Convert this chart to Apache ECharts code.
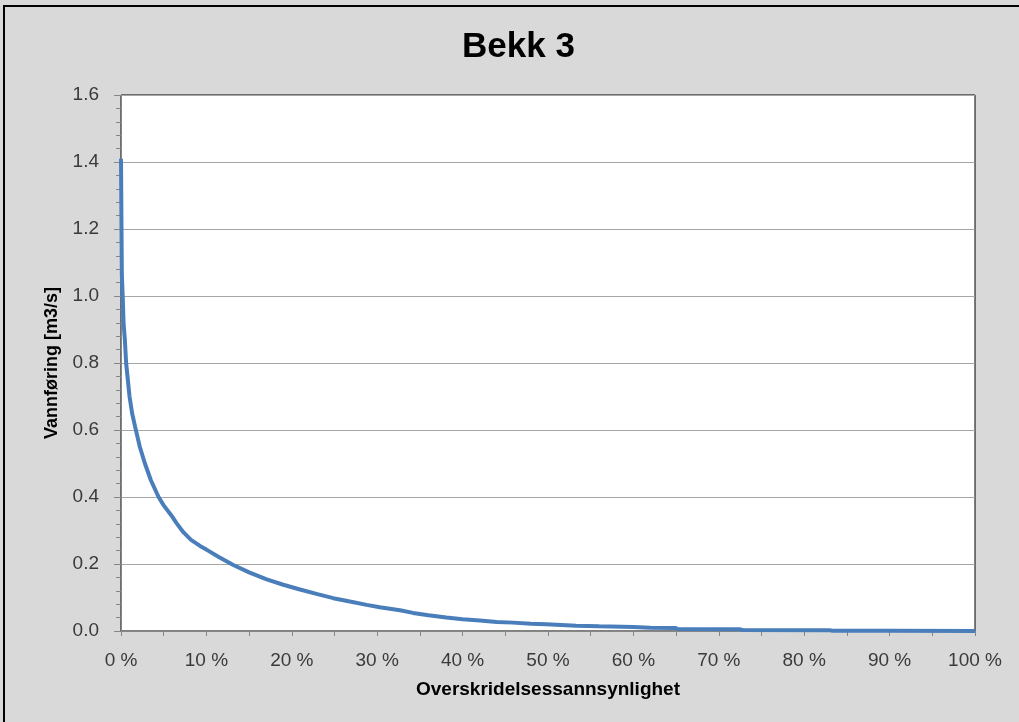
<!DOCTYPE html>
<html>
<head>
<meta charset="utf-8">
<title>Bekk 3</title>
<script src="https://cdn.jsdelivr.net/npm/echarts@6/dist/echarts.min.js"></script>
<style>
  html, body { margin: 0; padding: 0; background: #d9d9d9; }
  #chart { width: 1019px; height: 722px; }
</style>
</head>
<body>
<div id="chart"></div>
<script>
// Varighetskurve (flow duration curve) for Bekk 3
const chartTitle = 'Bekk 3';
const xAxisName = 'Overskridelsessannsynlighet';
const yAxisName = 'Vannføring [m3/s]';

// Exceedance probability in percent
const exceedance = [0, 0.1, 0.2, 0.3, 0.45, 0.6, 1.0, 1.3, 1.65, 2.2, 2.8, 3.5, 4.4, 5.0, 5.9, 6.5, 7.3, 8.2, 9.25, 10.0,
  11.5, 13.15, 15, 17.06, 19, 20.96, 23, 24.86, 26.8, 28.77, 30.3, 32.67, 34.2, 36, 38.1, 40, 42, 44, 45.9, 48,
  49.8, 53.3, 56, 60, 62, 64.9, 65.2, 72.5, 72.8, 83, 83.3, 90, 100];
// Discharge in m3/s
const discharge = [1.41, 1.06, 1.0, 0.92, 0.87, 0.80, 0.70, 0.65, 0.61, 0.55, 0.50, 0.45, 0.40, 0.375, 0.345, 0.322, 0.295, 0.272, 0.254, 0.243,
  0.22, 0.197, 0.175, 0.154, 0.138, 0.124, 0.11, 0.098, 0.088, 0.078, 0.071, 0.062, 0.054, 0.047, 0.040, 0.035, 0.031, 0.027, 0.025, 0.022,
  0.020, 0.016, 0.014, 0.012, 0.010, 0.009, 0.006, 0.005, 0.003, 0.002, 0.001, 0.001, 0.0];

const points = exceedance.map((x, i) => [x, discharge[i]]);

const chart = echarts.init(document.getElementById('chart'));
chart.setOption({
  backgroundColor: '#d9d9d9',
  animation: false,
  title: {
    text: chartTitle,
    left: 457,
    top: 25,
    textStyle: { fontFamily: 'Liberation Sans', fontSize: 35, fontWeight: 'bold', color: '#000' }
  },
  graphic: [{
    type: 'rect',
    shape: { x: 4, y: 6, width: 1100, height: 800 },
    style: { fill: 'none', stroke: '#000', lineWidth: 2 },
    silent: true
  }],
  grid: {
    left: 121, right: 44, top: 95, bottom: 91,
    show: true,
    backgroundColor: '#fff',
    borderColor: '#000',
    borderWidth: 1
  },
  xAxis: {
    type: 'value',
    min: 0, max: 100, interval: 5,
    name: xAxisName,
    nameLocation: 'middle',
    nameGap: 49,
    nameTextStyle: { fontFamily: 'Liberation Sans', fontSize: 19, fontWeight: 'bold', color: '#000' },
    axisLine: { show: true, lineStyle: { color: '#868686', width: 1 } },
    axisTick: { show: true, length: 5, lineStyle: { color: '#868686' } },
    axisLabel: {
      margin: 20,
      fontFamily: 'Liberation Sans', fontSize: 19, color: '#3a3a3a',
      formatter: v => (v % 10 === 0 ? v + ' %' : '')
    },
    splitLine: { show: false }
  },
  yAxis: {
    type: 'value',
    min: 0, max: 1.6, interval: 0.2,
    name: yAxisName,
    nameLocation: 'middle',
    nameGap: 60,
    nameTextStyle: { fontFamily: 'Liberation Sans', fontSize: 18, fontWeight: 'bold', color: '#000' },
    axisLine: { show: true, lineStyle: { color: '#868686', width: 1 } },
    axisTick: { show: true, length: 7, lineStyle: { color: '#868686' } },
    minorTick: { show: true, splitNumber: 5, length: 5, lineStyle: { color: '#868686' } },
    axisLabel: {
      margin: 22,
      fontFamily: 'Liberation Sans', fontSize: 19, color: '#3a3a3a',
      formatter: v => v.toFixed(1)
    },
    splitLine: { show: true, lineStyle: { color: '#a6a6a6', width: 1 } }
  },
  series: [{
    type: 'line',
    data: points,
    showSymbol: false,
    smooth: false,
    lineStyle: { color: '#4a7ebb', width: 4 },
    clip: true
  }]
});
</script>
</body>
</html>
